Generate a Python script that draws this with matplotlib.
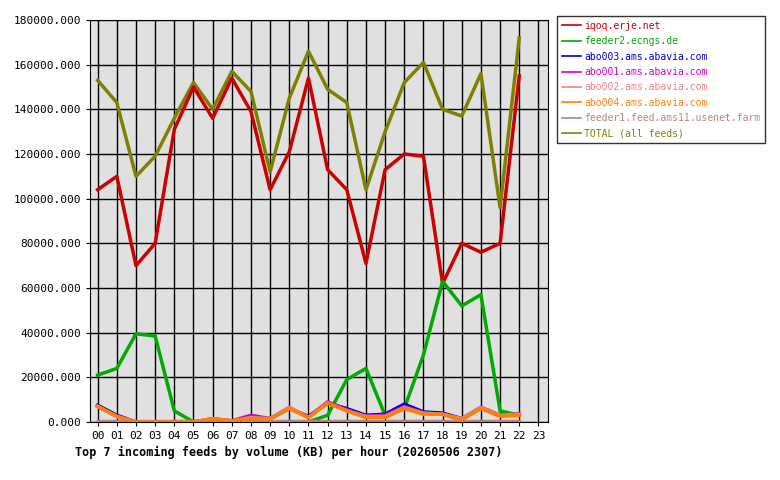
import matplotlib
matplotlib.use("Agg")
import matplotlib.pyplot as plt
from matplotlib.ticker import FuncFormatter, MultipleLocator

hours = [f"{h:02d}" for h in range(24)]
iqoq = [104000,110000,70000,80000,131000,150000,136000,154000,139000,104000,121000,154000,113000,104000,71000,113000,120000,119000,62000,80000,76000,80000,155000]
feeder2 = [21000,24000,39500,38500,5000,0,0,0,0,0,0,0,3000,19000,24000,3000,6000,30000,63000,52000,57000,5000,3000]
abo003 = [7500,3000,0,0,0,0,1000,500,2000,1500,6000,2500,8500,6000,3000,3500,8000,4500,4000,1500,6500,3000,3500]
abo001 = [7000,2500,0,0,0,0,1500,500,3000,1500,6500,2000,9000,5500,2500,3000,7000,4000,3500,1000,6500,3000,3500]
abo002 = [7000,2500,0,0,0,0,1500,500,2000,1500,6500,2000,8500,5000,2500,2500,6500,4000,3500,1500,6500,3000,3500]
abo004 = [7000,2500,0,0,0,0,1500,500,1500,1500,6000,2000,8500,5000,2000,2000,6000,3500,3500,1000,6000,2500,3000]
feeder1 = [500]*23
total = [153000,143000,110000,119000,136000,152000,140000,157000,148000,112000,145000,166000,149000,143000,104000,130000,152000,161000,140000,137000,156000,96000,172000]

series = [
    ("iqoq.erje.net", iqoq, "#cc0000"),
    ("feeder2.ecngs.de", feeder2, "#00aa00"),
    ("abo003.ams.abavia.com", abo003, "#0000cc"),
    ("abo001.ams.abavia.com", abo001, "#cc00cc"),
    ("abo002.ams.abavia.com", abo002, "#f08080"),
    ("abo004.ams.abavia.com", abo004, "#ff8000"),
    ("feeder1.feed.ams11.usenet.farm", feeder1, "#c08080"),
    ("TOTAL (all feeds)", total, "#808000"),
]

plt.rcParams['font.family'] = ['DejaVu Sans Mono']
fig = plt.figure(figsize=(7.8, 4.8), dpi=100)
ax = fig.add_axes([90/780, 58/480, 458/780, 402/480])
ax.set_facecolor("#e0e0e0")
x = list(range(23))
handles = {}
for i in [7, 0, 1, 2, 3, 4, 6, 5]:
    name, vals, col = series[i]
    h, = ax.plot(x, vals, color=col, lw=2.5, label=name, marker='s', markersize=0)
    handles[i] = h
ax.set_xlim(-0.4, 23.5)
ax.set_ylim(0, 180000)
ax.set_xticks(range(24))
ax.set_xticklabels(hours, fontsize=8)
ax.yaxis.set_major_locator(MultipleLocator(20000))
ax.yaxis.set_major_formatter(FuncFormatter(lambda v, p: f"{v:.3f}"))
ax.tick_params(labelsize=8, length=3)
ax.grid(True, color="black", lw=1)
ax.set_axisbelow(True)
for s in ax.spines.values():
    s.set_color("black")
hl = [handles[i] for i in range(8)]
leg = fig.legend(hl, [series[i][0] for i in range(8)], loc="upper left",
                 bbox_to_anchor=(557/780, 1-16/480), fontsize=7, frameon=True,
                 fancybox=False, edgecolor="black", handlelength=2.0, handletextpad=0.3,
                 borderpad=0.5, borderaxespad=0, labelspacing=0.55)
for t, (_, _, c) in zip(leg.get_texts(), series):
    t.set_color(c)
for lh in leg.get_lines():
    lh.set_linewidth(1.2)
fig.text(75/780, 1-452/480, "Top 7 incoming feeds by volume (KB) per hour (20260506 2307)",
         fontsize=8.5, fontweight="bold", va="center")
fig.savefig("out.png", dpi=100)
